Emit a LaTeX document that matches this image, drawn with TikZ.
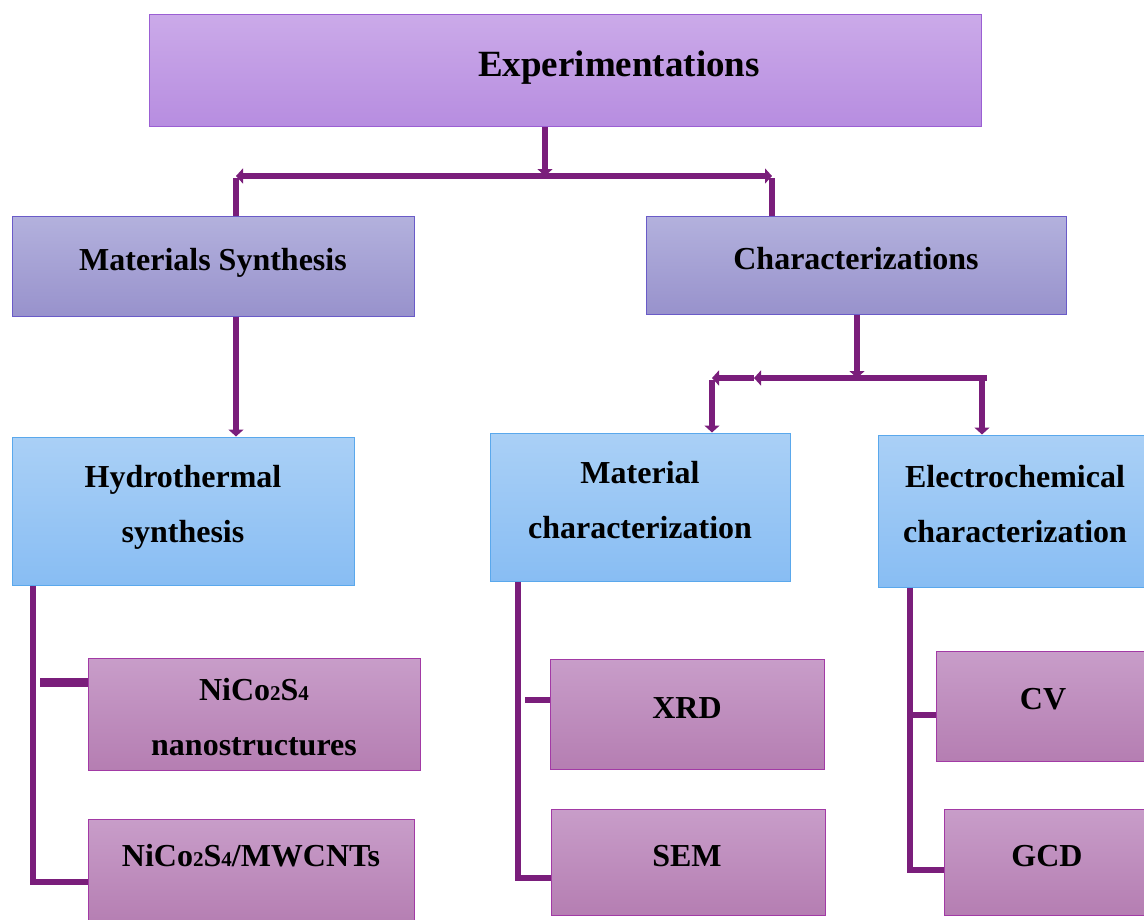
\documentclass[tikz,border=0pt]{standalone}
\usepackage{fontspec}
\setmainfont{Liberation Serif}
\usetikzlibrary{arrows.meta}
\definecolor{expT}{HTML}{CBAAE9}
\definecolor{expB}{HTML}{B78DE0}
\definecolor{expD}{HTML}{9B5FD3}
\definecolor{msT}{HTML}{B3B1DD}
\definecolor{msB}{HTML}{9892CC}
\definecolor{msD}{HTML}{6A5BC8}
\definecolor{blT}{HTML}{AAD0F6}
\definecolor{blB}{HTML}{88BDF3}
\definecolor{blD}{HTML}{5AA8EC}
\definecolor{pkT}{HTML}{C89DC9}
\definecolor{pkB}{HTML}{B57EB2}
\definecolor{pkD}{HTML}{A23AA5}
\definecolor{conn}{HTML}{7A1E7B}
\newcommand\mysub[1]{{\fontsize{21}{21}\selectfont #1}}
\begin{document}
\begin{tikzpicture}[x=1pt,y=-1pt,
  box/.style={line width=1pt, inner sep=0pt, rectangle},
  expbox/.style={box, draw=expD, top color=expT, bottom color=expB},
  msbox/.style={box, draw=msD, top color=msT, bottom color=msB},
  blbox/.style={box, draw=blD, top color=blT, bottom color=blB},
  pkbox/.style={box, draw=pkD, top color=pkT, bottom color=pkB},
  txt/.style={inner sep=0pt, align=center, font=\bfseries\fontsize{32}{55}\selectfont},
  bigtxt/.style={inner sep=0pt, align=center, font=\bfseries\fontsize{37}{44}\selectfont},
  cn/.style={draw=conn, line width=6.5pt},
  cnb/.style={draw=conn, line width=9pt},
  tip/.style={-{Triangle[width=15pt,length=7pt]}}
]
\useasboundingbox (0,0) rectangle (1144,919);
\clip (0,0) rectangle (1144,919);

% boxes
\node[expbox, minimum width=832pt, minimum height=112pt] (exp) at (565,70) {};
\node[msbox, minimum width=402pt, minimum height=100pt] (ms) at (213,266) {};
\node[msbox, minimum width=420pt, minimum height=98pt] (ch) at (856,265) {};
\node[blbox, minimum width=342pt, minimum height=148pt] (hyd) at (183,511) {};
\node[blbox, minimum width=300pt, minimum height=148pt] (mc) at (640,507) {};
\node[blbox, minimum width=274pt, minimum height=152pt] (ec) at (1015,511) {};
\node[pkbox, minimum width=332pt, minimum height=112pt] (nano) at (254,714) {};
\node[pkbox, minimum width=326pt, minimum height=106pt] (mw) at (251,872) {};
\node[pkbox, minimum width=274pt, minimum height=110pt] (xrd) at (687,714) {};
\node[pkbox, minimum width=274pt, minimum height=106pt] (sem) at (688,862) {};
\node[pkbox, minimum width=214pt, minimum height=110pt] (cv) at (1043,706) {};
\node[pkbox, minimum width=206pt, minimum height=106pt] (gcd) at (1047,862) {};

% texts
\node[bigtxt] (expt) at (619,68) {Experimentations};
\node[txt] (mst) at (213,263) {Materials Synthesis};
\node[txt] (cht) at (856,259) {Characterizations};
\node[txt] (hydt) at (183,507) {Hydrothermal\\synthesis};
\node[txt] (mct) at (640,500) {Material\\characterization};
\node[txt] (ect) at (1015,504) {Electrochemical\\characterization};
\node[txt] (nanot) at (254,717) {NiCo\mysub{2}S\mysub{4}\\nanostructures};
\node[txt] (mwt) at (251,856) {NiCo\mysub{2}S\mysub{4}/MWCNTs};
\node[txt] (xrdt) at (687,708) {XRD};
\node[txt] (semt) at (687,856) {SEM};
\node[txt] (cvt) at (1043,699) {CV};
\node[txt] (gcdt) at (1047,856) {GCD};

% top connectors
\coordinate (j1) at (545,176);
\coordinate (jl) at (236,176);
\coordinate (jr) at (772,176);
\draw[cn,tip] (exp.south -| j1) -- (j1);
\draw[cn,tip] (j1) -- (jl);
\draw[cn,tip] (j1) -- (jr);
\draw[cn] ([yshift=-2pt]jl) -- (ms.north -| jl);
\draw[cn] ([yshift=-2pt]jr) -- (ch.north -| jr);
\draw[cn,tip] (ms.south -| jl) -- (hyd.north -| jl);

% characterization connectors
\coordinate (j2) at (857,378);
\coordinate (jm) at (754,378);
\coordinate (jl2) at (712,378);
\coordinate (jr2) at (982,378);
\draw[cn,tip] (ch.south -| j2) -- (j2);
\draw[cn,tip] (j2) -- (jm);
\draw[cn,tip] (jm) -- (jl2);
\draw[cn,tip] ([yshift=-2pt]jl2) -- (mc.north -| jl2);
\draw[cn] (j2) -- ([xshift=5pt]jr2);
\draw[cn,tip] (jr2) -- (ec.north -| jr2);

% bracket connectors
\coordinate (b1) at (33,882);
\coordinate (b1a) at (40,682);
\draw[cn] (hyd.south -| b1) |- (mw.west |- b1);
\draw[cnb] (b1a) -- (b1a -| nano.west);

\coordinate (b2) at (518,878);
\coordinate (b2a) at (525,700);
\draw[cn] (mc.south -| b2) |- (sem.west |- b2);
\draw[cn] (b2a) -- (b2a -| xrd.west);

\coordinate (b3) at (910,870);
\coordinate (b3a) at (910,715);
\draw[cn] (ec.south -| b3) |- (gcd.west |- b3);
\draw[cn] (b3a) -- (b3a -| cv.west);
\end{tikzpicture}
\end{document}
